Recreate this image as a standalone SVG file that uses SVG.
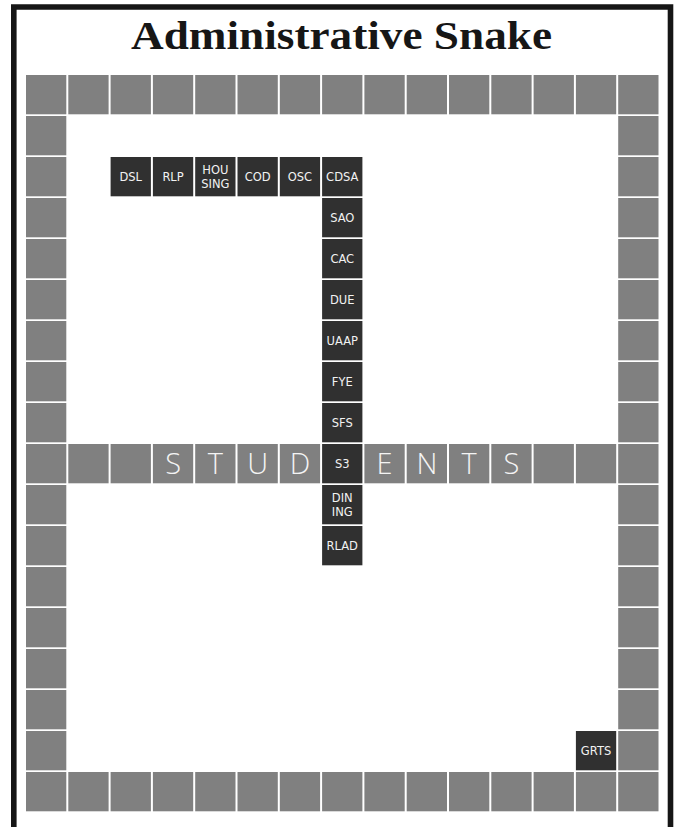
<svg xmlns="http://www.w3.org/2000/svg" xmlns:xlink="http://www.w3.org/1999/xlink" width="681" height="827" viewBox="0 0 681 827">
<style>
.g{fill:#808080}
.d{fill:#303030}
.lbl{font-family:"DejaVu Sans","Liberation Sans",sans-serif;font-size:11.5px;fill:#f2f2f2;text-anchor:middle}
.big{font-family:"Open Sans","DejaVu Sans",sans-serif;font-weight:300;font-size:29px;fill:#f4f4f4;text-anchor:middle}
.title{font-family:"Liberation Serif","DejaVu Serif",serif;font-weight:bold;font-size:41px;fill:#161616;text-anchor:middle}
</style>
<defs>
<rect id="c" width="40.3" height="39.3"/>
</defs>
<rect width="681" height="827" fill="#ffffff"/>
<path d="M13.8,827 V7 H670.5 V827" fill="none" stroke="#161616" stroke-width="5.6"/>
<text class="title" x="341.5" y="49" textLength="421" lengthAdjust="spacingAndGlyphs">Administrative Snake</text>
<g id="connectors"/>
<g id="top-row" class="g">
<use href="#c" x="26" y="75"/><use href="#c" x="68.3" y="75"/><use href="#c" x="110.6" y="75"/><use href="#c" x="152.9" y="75"/><use href="#c" x="195.2" y="75"/><use href="#c" x="237.5" y="75"/><use href="#c" x="279.8" y="75"/><use href="#c" x="322.1" y="75"/><use href="#c" x="364.4" y="75"/><use href="#c" x="406.7" y="75"/><use href="#c" x="449" y="75"/><use href="#c" x="491.3" y="75"/><use href="#c" x="533.6" y="75"/><use href="#c" x="575.9" y="75"/><use href="#c" x="618.2" y="75"/>
</g>
<g id="bottom-row" class="g">
<use href="#c" x="26" y="772"/><use href="#c" x="68.3" y="772"/><use href="#c" x="110.6" y="772"/><use href="#c" x="152.9" y="772"/><use href="#c" x="195.2" y="772"/><use href="#c" x="237.5" y="772"/><use href="#c" x="279.8" y="772"/><use href="#c" x="322.1" y="772"/><use href="#c" x="364.4" y="772"/><use href="#c" x="406.7" y="772"/><use href="#c" x="449" y="772"/><use href="#c" x="491.3" y="772"/><use href="#c" x="533.6" y="772"/><use href="#c" x="575.9" y="772"/><use href="#c" x="618.2" y="772"/>
</g>
<g id="left-column" class="g">
<use href="#c" x="26" y="116"/><use href="#c" x="26" y="157"/><use href="#c" x="26" y="198"/><use href="#c" x="26" y="239"/><use href="#c" x="26" y="280"/><use href="#c" x="26" y="321"/><use href="#c" x="26" y="362"/><use href="#c" x="26" y="403"/><use href="#c" x="26" y="444"/><use href="#c" x="26" y="485"/><use href="#c" x="26" y="526"/><use href="#c" x="26" y="567"/><use href="#c" x="26" y="608"/><use href="#c" x="26" y="649"/><use href="#c" x="26" y="690"/><use href="#c" x="26" y="731"/>
</g>
<g id="right-column" class="g">
<use href="#c" x="618.2" y="116"/><use href="#c" x="618.2" y="157"/><use href="#c" x="618.2" y="198"/><use href="#c" x="618.2" y="239"/><use href="#c" x="618.2" y="280"/><use href="#c" x="618.2" y="321"/><use href="#c" x="618.2" y="362"/><use href="#c" x="618.2" y="403"/><use href="#c" x="618.2" y="444"/><use href="#c" x="618.2" y="485"/><use href="#c" x="618.2" y="526"/><use href="#c" x="618.2" y="567"/><use href="#c" x="618.2" y="608"/><use href="#c" x="618.2" y="649"/><use href="#c" x="618.2" y="690"/><use href="#c" x="618.2" y="731"/>
</g>
<g id="students-row">
<g class="g">
<use href="#c" x="68.3" y="444"/><use href="#c" x="110.6" y="444"/><use href="#c" x="152.9" y="444"/><use href="#c" x="195.2" y="444"/><use href="#c" x="237.5" y="444"/><use href="#c" x="279.8" y="444"/><use href="#c" x="364.4" y="444"/><use href="#c" x="406.7" y="444"/><use href="#c" x="449" y="444"/><use href="#c" x="491.3" y="444"/><use href="#c" x="533.6" y="444"/><use href="#c" x="575.9" y="444"/>
</g>
<text class="big" x="173.05" y="474.3">S</text>
<text class="big" x="215.35" y="474.3">T</text>
<text class="big" x="257.65" y="474.3">U</text>
<text class="big" x="299.95" y="474.3">D</text>
<text class="big" x="384.55" y="474.3">E</text>
<text class="big" x="426.85" y="474.3">N</text>
<text class="big" x="469.15" y="474.3">T</text>
<text class="big" x="511.45" y="474.3">S</text>
</g>
<g id="DSL"><use href="#c" class="d" x="110.6" y="157"/><text class="lbl" x="130.75" y="180.8">DSL</text></g>
<g id="RLP"><use href="#c" class="d" x="152.9" y="157"/><text class="lbl" x="173.05" y="180.8">RLP</text></g>
<g id="HOUSING"><use href="#c" class="d" x="195.2" y="157"/><text class="lbl" x="215.35" y="174.2">HOU</text><text class="lbl" x="215.35" y="188.4">SING</text></g>
<g id="COD"><use href="#c" class="d" x="237.5" y="157"/><text class="lbl" x="257.65" y="180.8">COD</text></g>
<g id="OSC"><use href="#c" class="d" x="279.8" y="157"/><text class="lbl" x="299.95" y="180.8">OSC</text></g>
<g id="CDSA"><use href="#c" class="d" x="322.1" y="157"/><text class="lbl" x="342.25" y="180.8">CDSA</text></g>
<g id="SAO"><use href="#c" class="d" x="322.1" y="198"/><text class="lbl" x="342.25" y="221.8">SAO</text></g>
<g id="CAC"><use href="#c" class="d" x="322.1" y="239"/><text class="lbl" x="342.25" y="262.8">CAC</text></g>
<g id="DUE"><use href="#c" class="d" x="322.1" y="280"/><text class="lbl" x="342.25" y="303.8">DUE</text></g>
<g id="UAAP"><use href="#c" class="d" x="322.1" y="321"/><text class="lbl" x="342.25" y="344.8">UAAP</text></g>
<g id="FYE"><use href="#c" class="d" x="322.1" y="362"/><text class="lbl" x="342.25" y="385.8">FYE</text></g>
<g id="SFS"><use href="#c" class="d" x="322.1" y="403"/><text class="lbl" x="342.25" y="426.8">SFS</text></g>
<g id="S3"><use href="#c" class="d" x="322.1" y="444"/><text class="lbl" x="342.25" y="467.8">S3</text></g>
<g id="DINING"><use href="#c" class="d" x="322.1" y="485"/><text class="lbl" x="342.25" y="501.8">DIN</text><text class="lbl" x="342.25" y="516">ING</text></g>
<g id="RLAD"><use href="#c" class="d" x="322.1" y="526"/><text class="lbl" x="342.25" y="549.8">RLAD</text></g>
<g id="GRTS"><use href="#c" class="d" x="575.9" y="731"/><text class="lbl" x="596.05" y="754.8">GRTS</text></g>
</svg>
